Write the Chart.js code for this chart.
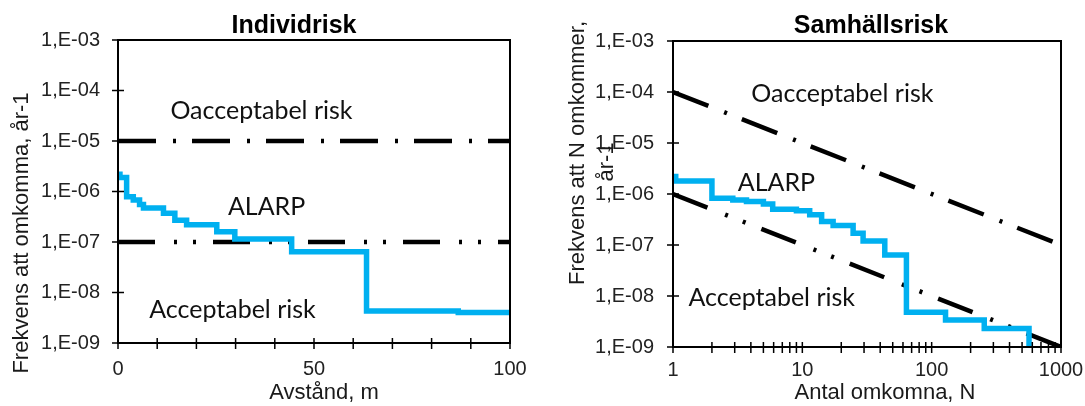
<!DOCTYPE html>
<html lang="sv">
<head>
<meta charset="utf-8">
<title>Individrisk och samhällsrisk</title>
<script src="https://cdn.jsdelivr.net/npm/chart.js@4.4.1/dist/chart.umd.min.js"></script>
<style>
  html, body { margin: 0; padding: 0; background: #fff; }
  #wrap { position: relative; width: 1085px; height: 406px; }
  canvas { position: absolute; top: 0; }
  #cIR { left: 0; }
  #cSR { left: 545px; }
</style>
</head>
<body>
<div id="wrap">
  <canvas id="cIR" width="545" height="406"></canvas>
  <canvas id="cSR" width="540" height="406"></canvas>
</div>
<script>
/* Individrisk (vänster) och samhällsrisk / FN-kurva (höger)
   Stegkurvor: varje värde gäller från sitt x fram till nästa x. */

// Individrisk: avstånd (m) -> frekvens att omkomma per år
const irDist = [0, 0.5, 2.2, 3.9, 5.5, 6.5, 11.6, 14.5, 17.5, 25.2, 29.8, 44.3, 63.4, 86.8, 100];
const irFreq = [2.2e-6, 1.9e-6, 7.9e-7, 6.8e-7, 5.5e-7, 4.7e-7, 3.7e-7, 2.7e-7, 2.2e-7, 1.6e-7, 1.15e-7, 6.4e-8, 4.3e-9, 4.0e-9, 4.0e-9];

// Kriterier individrisk
const irLimitX = [0, 100];
const irUpper = [1e-5, 1e-5];
const irLower = [1e-7, 1e-7];

// Samhällsrisk: antal omkomna N -> frekvens att N omkommer per år
const srN    = [1, 1.05, 2, 2.9, 3.7, 5, 5.9, 9, 11.4, 14.1, 17.3, 24.7, 29.5, 43.4, 63.8, 128, 255, 566];
const srFreq = [2.2e-6, 1.8e-6, 8.3e-7, 7.6e-7, 7.1e-7, 6.4e-7, 5.0e-7, 4.7e-7, 3.9e-7, 2.9e-7, 2.4e-7, 1.7e-7, 1.2e-7, 6.4e-8, 4.8e-9, 3.4e-9, 2.3e-9, 1e-9];

// Kriterier samhällsrisk
const srLimitN = [1, 1000];
const srUpper = [1e-4, 1e-7];
const srLower = [1e-6, 1e-9];

// Axlar
const yTickValues = [1e-9, 1e-8, 1e-7, 1e-6, 1e-5, 1e-4, 1e-3];
const yTickLabels = ['1,E-09', '1,E-08', '1,E-07', '1,E-06', '1,E-05', '1,E-04', '1,E-03'];
const irXTicks  = [0, 10, 20, 30, 40, 50, 60, 70, 80, 90, 100];
const irXLabels = ['0', '', '', '', '', '50', '', '', '', '', '100'];
const srXTicks  = [1, 2, 3, 4, 5, 6, 7, 8, 9, 10, 20, 30, 40, 50, 60, 70, 80, 90, 100, 200, 300, 400, 500, 600, 700, 800, 900, 1000];
const srXLabels = srXTicks.map(v => [1, 10, 100, 1000].includes(v) ? String(v) : '');

// Zontexter
const zoneText = ['Oacceptabel risk', 'ALARP', 'Acceptabel risk'];
const irZoneAt = [[36.6, 4.0e-5], [37.9, 5.0e-7], [29.2, 4.6e-9]];
const srZoneAt = [[20.4, 9.3e-5], [6.3, 1.66e-6], [5.8, 9.3e-9]];

const BLUE = '#00b0f0';
const AX_FONT = '"Liberation Sans", Arial, sans-serif';
const DASH_DOT = [38, 17, 3, 16];
const DASH_DOT_DOT = [37, 19, 3, 16, 3, 17];

Chart.defaults.font.family = AX_FONT;

function pts(xs, ys) {
  return xs.map((x, i) => ({ x: x, y: ys[i] }));
}

// frame, crossing tick marks, titles and zone labels
function decor(o) {
  return {
    id: 'decor',
    afterDraw(chart) {
      const { ctx, chartArea: a, scales: { x, y } } = chart;
      ctx.save();
      ctx.strokeStyle = '#000';
      ctx.lineWidth = 1.5;
      ctx.beginPath();
      y.ticks.forEach(t => {
        const py = y.getPixelForValue(t.value);
        ctx.moveTo(a.left - 6, py); ctx.lineTo(a.left + 6, py);
      });
      x.ticks.forEach(t => {
        const px = x.getPixelForValue(t.value);
        ctx.moveTo(px, a.bottom - 5); ctx.lineTo(px, a.bottom + 6);
      });
      ctx.stroke();
      ctx.lineWidth = 2;
      ctx.strokeRect(a.left, a.top, a.right - a.left, a.bottom - a.top);

      ctx.fillStyle = '#000';
      ctx.textAlign = 'center';
      ctx.textBaseline = 'middle';
      ctx.font = 'bold 25px ' + AX_FONT;
      ctx.fillText(o.title, o.titleAt[0], o.titleAt[1]);

      ctx.fillStyle = '#1a1a1a';
      ctx.font = '22px ' + AX_FONT;
      ctx.fillText(o.xTitle, o.xTitleAt[0], o.xTitleAt[1]);
      o.yTitle.forEach((line, i) => {
        ctx.save();
        ctx.translate(o.yTitleAt[i][0], o.yTitleAt[i][1]);
        ctx.rotate(-Math.PI / 2);
        ctx.fillText(line, 0, 0);
        ctx.restore();
      });

      ctx.fillStyle = '#111';
      ctx.font = '25px Lato, "Open Sans", sans-serif';
      zoneText.forEach((txt, i) => {
        const p = o.zones[i];
        ctx.fillText(txt, x.getPixelForValue(p[0]), y.getPixelForValue(p[1]));
      });
      ctx.restore();
    }
  };
}

function makeChart(canvas, o) {
  return new Chart(canvas, {
    type: 'line',
    data: {
      datasets: [
        // 0 risk curve (drawn on top)
        { data: pts(o.curveX, o.curveY), borderColor: BLUE, borderWidth: 5.5, stepped: true,
          pointRadius: 0, fill: false, borderJoinStyle: 'miter', borderCapStyle: 'butt' },
        // 1 upper criterion
        { data: pts(o.limX, o.upper), borderColor: '#000', borderWidth: 4.5, borderDash: DASH_DOT,
          pointRadius: 0, fill: false },
        // 2 lower criterion
        { data: pts(o.limX, o.lower), borderColor: '#000', borderWidth: 4.5, borderDash: DASH_DOT_DOT,
          pointRadius: 0, fill: false },
      ]
    },
    options: {
      responsive: false,
      animation: false,
      devicePixelRatio: 1,
      layout: { padding: o.padding },
      plugins: { legend: { display: false }, tooltip: { enabled: false }, title: { display: false } },
      scales: {
        x: {
          type: o.xType,
          min: o.xMin,
          max: o.xMax,
          afterBuildTicks: s => { s.ticks = o.xTicks.map(v => ({ value: v })); },
          // fixed box; edge labels fit inside the layout padding
          afterFit: s => { s.height = o.xHeight; s.paddingLeft = 0; s.paddingRight = 0; },
          ticks: {
            autoSkip: false, maxRotation: 0, padding: o.xPad,
            color: '#222', font: { size: 20 },
            callback: (v, i) => o.xLabels[i]
          },
          grid: { display: false, drawTicks: false },
          border: { display: false }
        },
        y: {
          type: 'logarithmic',
          min: 1e-9,
          max: 1e-3,
          afterBuildTicks: s => { s.ticks = yTickValues.map(v => ({ value: v })); },
          afterFit: s => { s.width = o.yWidth; s.paddingTop = 0; s.paddingBottom = 0; },
          ticks: {
            padding: o.yPad,
            color: '#222', font: { size: 20 },
            callback: (v, i) => yTickLabels[i]
          },
          grid: { display: false, drawTicks: false },
          border: { display: false }
        }
      }
    },
    plugins: [decor(o)]
  });
}

makeChart(document.getElementById('cIR'), {
  curveX: irDist, curveY: irFreq, limX: irLimitX, upper: irUpper, lower: irLower,
  xType: 'linear', xMin: 0, xMax: 100, xTicks: irXTicks, xLabels: irXLabels,
  padding: { left: 0, top: 40, right: 35, bottom: 0 },
  xHeight: 63, yWidth: 118, xPad: 14, yPad: 18,
  title: 'Individrisk', titleAt: [294, 26],
  xTitle: 'Avstånd, m', xTitleAt: [324, 393],
  yTitle: ['Frekvens att omkomma, år-1'], yTitleAt: [[22, 233]],
  zones: irZoneAt
});

makeChart(document.getElementById('cSR'), {
  curveX: srN, curveY: srFreq, limX: srLimitN, upper: srUpper, lower: srLower,
  xType: 'logarithmic', xMin: 1, xMax: 1000, xTicks: srXTicks, xLabels: srXLabels,
  padding: { left: 0, top: 41, right: 24, bottom: 0 },
  xHeight: 59, yWidth: 128, xPad: 11, yPad: 19,
  title: 'Samhällsrisk', titleAt: [326, 26],
  xTitle: 'Antal omkomna, N', xTitleAt: [340, 393],
  yTitle: ['Frekvens att N omkommer,', 'år-1'], yTitleAt: [[33, 153], [62, 162]],
  zones: srZoneAt
});
</script>
</body>
</html>
